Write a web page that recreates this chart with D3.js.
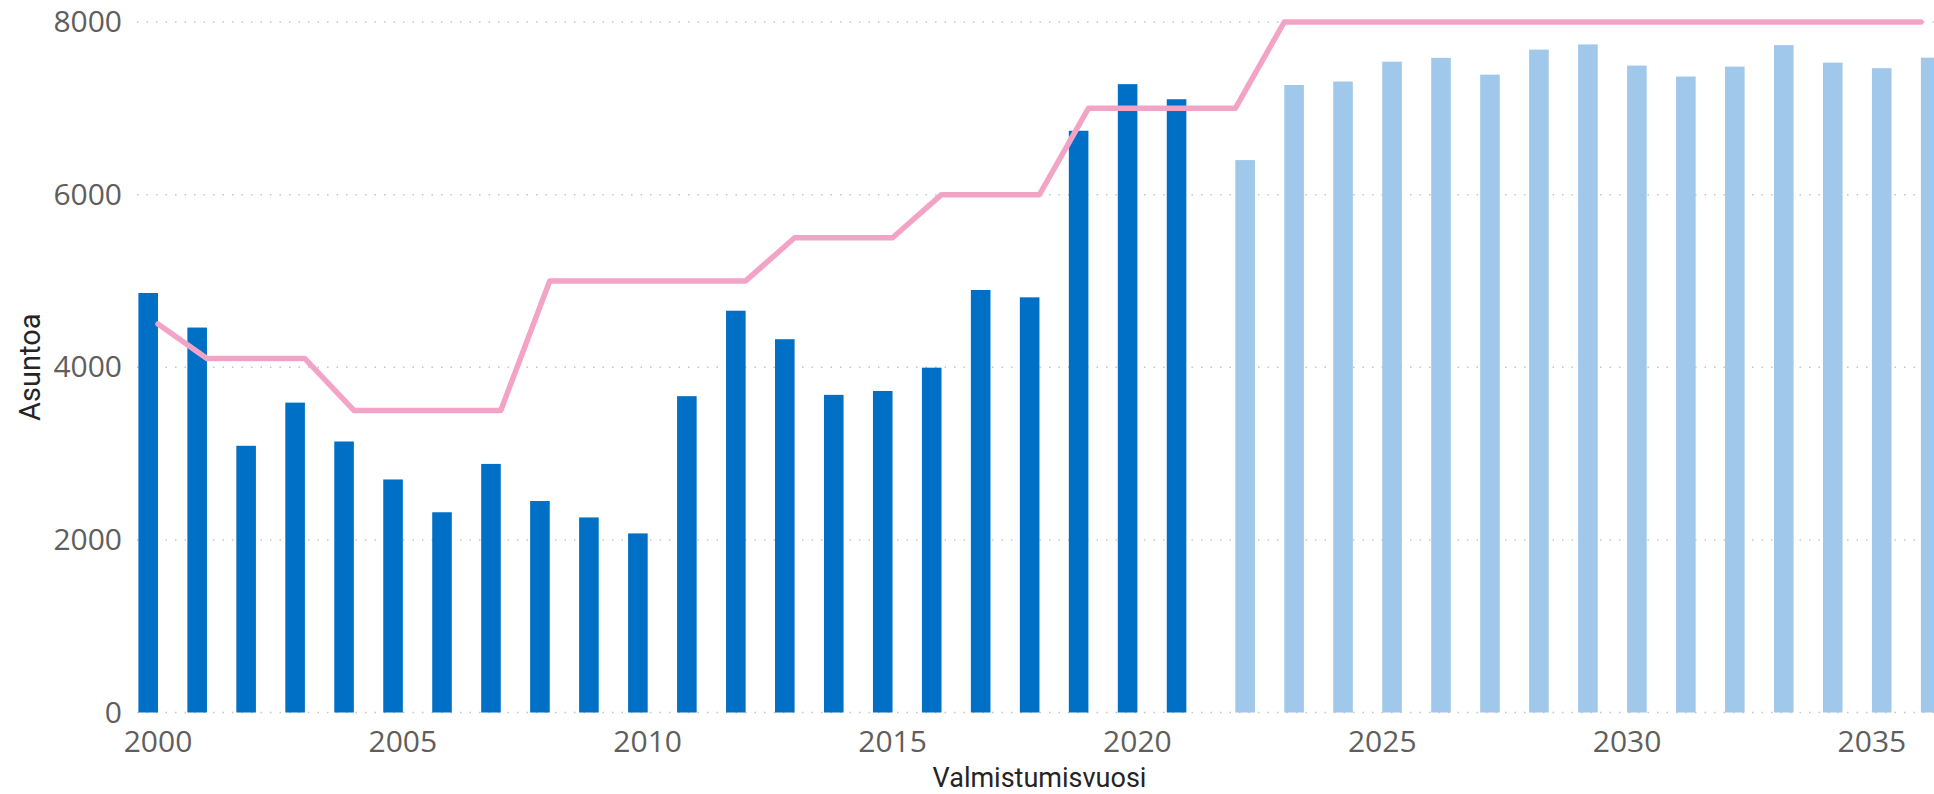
<!DOCTYPE html>
<html>
<head>
<meta charset="utf-8">
<script src="https://cdn.jsdelivr.net/npm/d3@7"></script>
<style>
  body { margin: 0; background: #fff; overflow: hidden; }
  svg { display: block; }
</style>
</head>
<body>
<svg id="chart" width="1934" height="794"></svg>
<script>
// vuodet ja arvot luettu kuvasta
var actualYears = [2000, 2001, 2002, 2003, 2004, 2005, 2006, 2007, 2008, 2009, 2010,
  2011, 2012, 2013, 2014, 2015, 2016, 2017, 2018, 2019, 2020, 2021];
var actualValues = [4860, 4460, 3090, 3590, 3140, 2700, 2320, 2880, 2450, 2260, 2075,
  3665, 4655, 4325, 3680, 3725, 3995, 4895, 4810, 6740, 7280, 7105];

var forecastYears = [2022, 2023, 2024, 2025, 2026, 2027, 2028, 2029, 2030, 2031, 2032,
  2033, 2034, 2035, 2036];
var forecastValues = [6400, 7270, 7310, 7540, 7585, 7390, 7680, 7740, 7495, 7368, 7483,
  7732, 7529, 7465, 7587];

var targetYears = actualYears.concat(forecastYears);
var targetValues = [4500, 4100, 4100, 4100, 3500, 3500, 3500, 3500, 5000, 5000, 5000,
  5000, 5000, 5500, 5500, 5500, 6000, 6000, 6000, 7000, 7000, 7000, 7000,
  8000, 8000, 8000, 8000, 8000, 8000, 8000, 8000, 8000, 8000, 8000, 8000, 8000, 8000];

var xTickLabels = [2000, 2005, 2010, 2015, 2020, 2025, 2030, 2035];
var yTickLabels = [0, 2000, 4000, 6000, 8000];

var colors = { actual: "#0070c6", forecast: "#9fc8ea", target: "#f3a4c6" };

var svg = d3.select("#chart"),
  plotLeft = 137,
  plotTop = 22,
  plotBottom = 712.5,
  step = 48.97,
  bandStart = 133.5;

var x = d3.scaleBand()
  .domain(targetYears)
  .range([bandStart, bandStart + step * targetYears.length]);

var xSeries = d3.scaleBand()
  .domain(["actual", "forecast"])
  .range([0, x.bandwidth()])
  .paddingOuter(0.25);

var y = d3.scaleLinear()
  .domain([0, 8000])
  .range([plotBottom, plotTop]);

function center(year) { return x(year) + x.bandwidth() / 2; }

// dotted gridlines
svg.append("g")
  .selectAll("line")
    .data(yTickLabels)
    .enter().append("line")
      .attr("x1", plotLeft)
      .attr("x2", 1960)
      .attr("y1", function(d) { return y(d); })
      .attr("y2", function(d) { return y(d); })
      .attr("stroke", "#c8c6c4")
      .attr("stroke-width", 1.5)
      .attr("stroke-dasharray", "1.5 8");

svg.append("g")
  .selectAll("rect")
    .data(actualYears.map(function(year, i) { return { year: year, value: actualValues[i] }; }))
    .enter().append("rect")
      .attr("x", function(d) { return x(d.year) + xSeries("actual"); })
      .attr("width", xSeries.bandwidth())
      .attr("y", function(d) { return y(d.value); })
      .attr("height", function(d) { return y(0) - y(d.value); })
      .attr("fill", colors.actual);

svg.append("g")
  .selectAll("rect")
    .data(forecastYears.map(function(year, i) { return { year: year, value: forecastValues[i] }; }))
    .enter().append("rect")
      .attr("x", function(d) { return x(d.year) + xSeries("forecast"); })
      .attr("width", xSeries.bandwidth())
      .attr("y", function(d) { return y(d.value); })
      .attr("height", function(d) { return y(0) - y(d.value); })
      .attr("fill", colors.forecast);

var line = d3.line()
  .x(function(d) { return center(d.year); })
  .y(function(d) { return y(d.value); });

svg.append("path")
  .datum(targetYears.map(function(year, i) { return { year: year, value: targetValues[i] }; }))
  .attr("fill", "none")
  .attr("stroke", colors.target)
  .attr("stroke-width", 5.5)
  .attr("stroke-linejoin", "round")
  .attr("stroke-linecap", "round")
  .attr("d", line);

// axes
var xAxis = svg.append("g")
  .attr("transform", "translate(0," + plotBottom + ")")
  .call(d3.axisBottom(x).tickValues(xTickLabels).tickSize(0));

xAxis.select(".domain").remove();
xAxis.selectAll("text")
  .attr("y", 39.5)
  .attr("dy", null)
  .attr("fill", "#605e5c")
  .style("font-family", "'Open Sans', sans-serif")
  .style("font-size", "30px");

var yAxis = svg.append("g")
  .attr("transform", "translate(" + plotLeft + ",0)")
  .call(d3.axisLeft(y).tickValues(yTickLabels).tickFormat(d3.format("d")).tickSize(0).tickPadding(15));

yAxis.select(".domain").remove();
yAxis.selectAll("text")
  .attr("fill", "#605e5c")
  .style("font-family", "'Open Sans', sans-serif")
  .style("font-size", "30px");

svg.append("text")
  .attr("x", 1039.5)
  .attr("y", 787)
  .attr("text-anchor", "middle")
  .attr("fill", "#252423")
  .style("font-family", "Roboto, sans-serif")
  .style("font-size", "27px")
  .text("Valmistumisvuosi");

svg.append("text")
  .attr("transform", "translate(40," + ((plotTop + plotBottom) / 2) + ") rotate(-90)")
  .attr("text-anchor", "middle")
  .attr("fill", "#252423")
  .style("font-family", "Roboto, sans-serif")
  .style("font-size", "29px")
  .text("Asuntoa");
</script>
</body>
</html>
